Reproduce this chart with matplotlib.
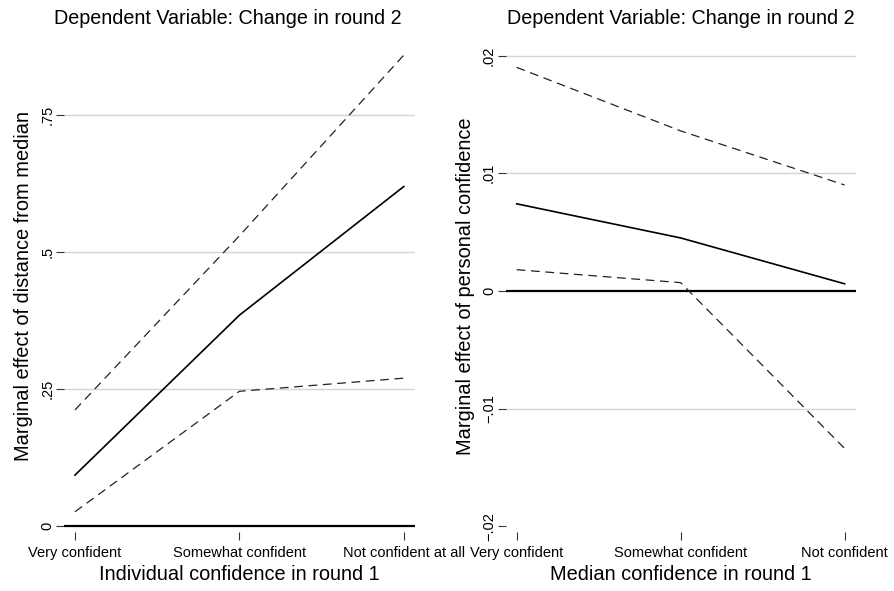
import numpy as np
import matplotlib.pyplot as plt

plt.rcParams['font.family'] = ['Liberation Sans', 'DejaVu Sans']

# 左图：个人信心
left_cats = ['Very confident', 'Somewhat confident', 'Not confident at all']
left_est = [0.093, 0.385, 0.62]
left_hi = [0.212, 0.53, 0.86]
left_lo = [0.026, 0.246, 0.27]
left_yticks = [0, 0.25, 0.5, 0.75]
left_ylabels = ['0', '.25', '.5', '.75']
left_grid = [0.25, 0.5, 0.75]

# 右图：中位数信心
right_cats = ['Very confident', 'Somewhat confident', 'Not confident']
right_est = [0.0074, 0.0045, 0.0006]
right_hi = [0.019, 0.0136, 0.009]
right_lo = [0.0018, 0.0007, -0.0134]
right_yticks = [-0.02, -0.01, 0, 0.01, 0.02]
right_ylabels = ['\u2212.02', '\u2212.01', '0', '.01', '.02']
right_grid = [-0.01, 0.01, 0.02]


def draw_panel(ax, cats, est, hi, lo, yticks, ylabels, grid, ylim, xlabel, ylabel, title_x=0.5):
    x = np.arange(len(cats))
    for y in grid:
        ax.axhline(y, color='#d4d4d4', lw=1.0, zorder=0)
    ax.axhline(0, color='black', lw=1.6, zorder=1)
    ax.plot(x, est, color='black', lw=1.2, zorder=3)
    ax.plot(x, hi, color='#222222', lw=0.9, dashes=(7, 4.5), zorder=3)
    ax.plot(x, lo, color='#222222', lw=0.9, dashes=(7, 4.5), zorder=3)
    ax.set_xlim(-0.067, 2.067)
    ax.set_ylim(*ylim)
    ax.set_xticks(x)
    ax.set_xticklabels(cats, fontsize=10.5)
    ax.set_yticks(yticks)
    ax.set_yticklabels(ylabels, fontsize=10.5, rotation=90, va='center')
    ax.tick_params(axis='both', direction='out', length=6, width=0.8, color='#333333', pad=4)
    ax.tick_params(axis='y', pad=1)
    for s in ax.spines.values():
        s.set_visible(False)
    ax.set_xlabel(xlabel, fontsize=14.4, labelpad=4)
    ax.set_ylabel(ylabel, fontsize=14.4, labelpad=5)
    ax.set_title('Dependent Variable: Change in round 2', fontsize=14.2, pad=12, x=title_x)


fig = plt.figure(figsize=(8.95, 5.91), dpi=100)
ax1 = fig.add_axes([0.0715, 0.0998, 0.392, 0.832])
ax2 = fig.add_axes([0.565, 0.0998, 0.391, 0.832])

draw_panel(ax1, left_cats, left_est, left_hi, left_lo, left_yticks, left_ylabels, left_grid,
           (-0.011, 0.887), 'Individual confidence in round 1',
           'Marginal effect of distance from median', title_x=0.466)
draw_panel(ax2, right_cats, right_est, right_hi, right_lo, right_yticks, right_ylabels, right_grid,
           (-0.0205, 0.0213), 'Median confidence in round 1',
           'Marginal effect of personal confidence')

fig.savefig('out.png', dpi=100)
